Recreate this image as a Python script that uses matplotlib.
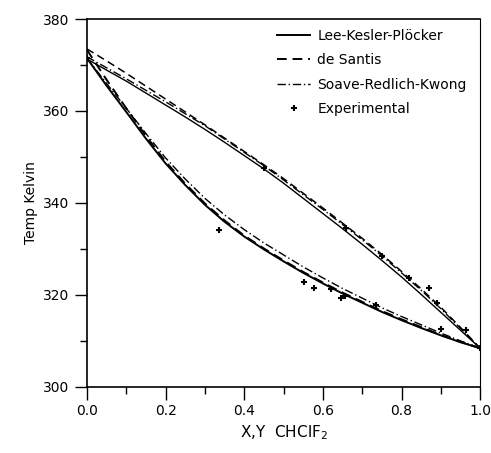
import matplotlib.pyplot as plt
from matplotlib.ticker import MultipleLocator
import numpy as np

#========================================================================
# dados
#========================================================================
x = [0.0, 0.05, 0.1, 0.15, 0.2, 0.25, 0.3, 0.35, 0.4, 0.45, 0.5,
     0.55, 0.6, 0.65, 0.7, 0.75, 0.8, 0.85, 0.9, 0.95, 1.0]

# Lee-Kesler-Plocker
lkp_liq = [371.5, 365.5, 359.8, 354.0, 348.6, 343.9, 339.6, 335.9, 332.7, 329.9, 327.3,
           324.8, 322.5, 320.3, 318.3, 316.3, 314.5, 312.8, 311.2, 309.7, 308.4]
lkp_vap = [371.3, 368.9, 366.5, 363.9, 361.3, 358.7, 356.0, 353.2, 350.3, 347.4, 344.3,
           341.0, 337.7, 334.4, 331.0, 327.5, 323.9, 320.1, 316.2, 312.3, 308.4]

# de Santis
ds_liq = [373.3, 366.8, 360.6, 354.6, 349.0, 344.2, 339.9, 336.2, 332.9, 330.1, 327.5,
          325.0, 322.7, 320.5, 318.5, 316.5, 314.7, 313.0, 311.3, 309.8, 308.4]
ds_vap = [373.5, 370.9, 368.2, 365.4, 362.6, 359.8, 357.0, 354.1, 351.2, 348.3, 345.3,
          342.1, 338.9, 335.6, 332.3, 328.8, 325.1, 321.3, 317.3, 312.9, 308.4]

# Soave-Redlich-Kwong
srk_liq = [371.5, 366.0, 360.6, 355.1, 349.8, 345.2, 341.0, 337.4, 334.2, 331.3, 328.7,
           326.1, 323.7, 321.4, 319.3, 317.2, 315.3, 313.5, 311.7, 310.0, 308.4]
srk_vap = [371.8, 369.4, 367.0, 364.5, 362.0, 359.4, 356.8, 353.9, 351.0, 348.1, 345.0,
           341.8, 338.6, 335.3, 332.0, 328.5, 324.8, 321.0, 317.0, 312.7, 308.4]

# Experimental
x_exp = [0.0, 0.335, 0.552, 0.577, 0.62, 0.646, 0.655, 0.734, 0.901, 1.0,
         0.45, 0.66, 0.75, 0.818, 0.871, 0.889, 0.965]
t_exp = [371.5, 334.1, 322.8, 321.6, 321.2, 319.4, 319.8, 317.8, 312.6, 308.4,
         347.6, 334.6, 328.4, 323.7, 321.5, 318.3, 312.4]

#========================================================================
# grafico
#========================================================================
fig = plt.figure(figsize=(4.91, 4.53), dpi=100)
ax = fig.add_axes([0.177, 0.146, 0.801, 0.812])

dash = (0, (5, 3))
dashdot = (0, (6, 2, 1, 2))
ax.plot(x, lkp_liq, color='black', linewidth=1.4, linestyle='-', label='Lee-Kesler-Plöcker')
ax.plot(x, lkp_vap, color='black', linewidth=1.0, linestyle='-')
ax.plot(x, ds_liq, color='black', linewidth=1.4, linestyle=dash, label='de Santis')
ax.plot(x, ds_vap, color='black', linewidth=1.1, linestyle=dash)
ax.plot(x, srk_liq, color='black', linewidth=1.0, linestyle=dashdot, label='Soave-Redlich-Kwong')
ax.plot(x, srk_vap, color='black', linewidth=1.0, linestyle=dashdot)
ax.plot(x_exp, t_exp, linestyle='none', marker='+', markersize=5, markeredgewidth=1.5,
        color='black', label='Experimental')

ax.set_xlim(0, 1)
ax.set_ylim(300, 380)
ax.xaxis.set_major_locator(MultipleLocator(0.2))
ax.xaxis.set_minor_locator(MultipleLocator(0.1))
ax.yaxis.set_major_locator(MultipleLocator(20))
ax.yaxis.set_minor_locator(MultipleLocator(10))
ax.xaxis.set_major_formatter(plt.FuncFormatter(lambda v, p: '{:.1f}'.format(v)))
ax.tick_params(which='major', direction='out', length=9, width=1, labelsize=10, top=False, right=False)
ax.tick_params(which='minor', direction='out', length=5, width=1, top=False, right=False)
for s in ['top', 'bottom', 'left']:
    ax.spines[s].set_linewidth(1.2)
ax.spines['right'].set_linewidth(0.8)

ax.set_ylabel('Temp Kelvin', fontsize=10)
ax.set_xlabel('X,Y  CHClF$_2$', fontsize=11)

leg = ax.legend(loc='upper right', bbox_to_anchor=(0.99, 1.0), frameon=False, fontsize=10,
                handlelength=2.4, handletextpad=0.5, labelspacing=0.75, borderaxespad=0.3)

plt.savefig('out.png', dpi=100)
